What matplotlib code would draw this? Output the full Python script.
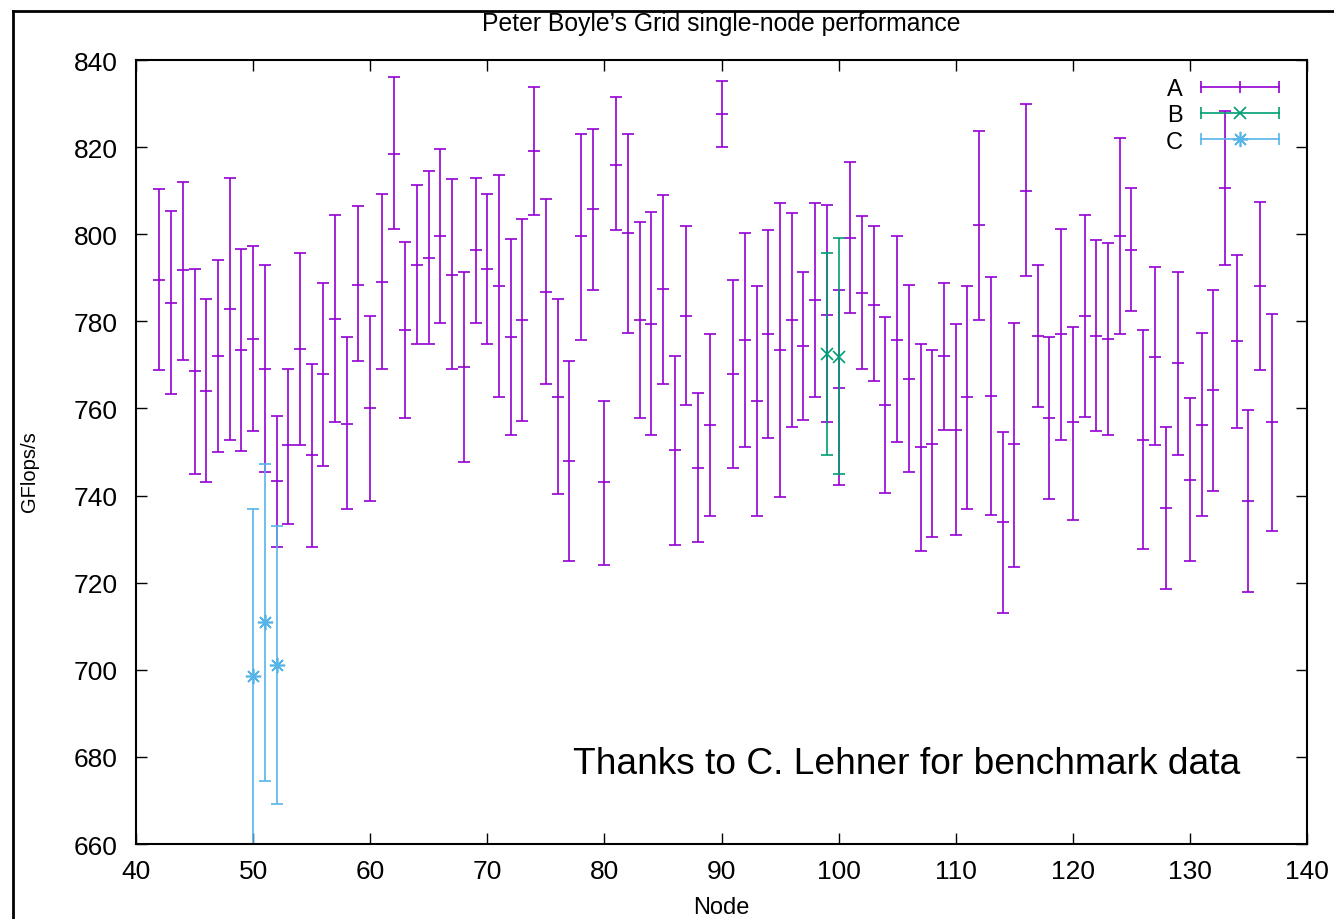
import numpy as np
import matplotlib
matplotlib.use('Agg')
import matplotlib.pyplot as plt
from matplotlib.lines import Line2D
from matplotlib.legend_handler import HandlerLine2D

plt.rcParams['font.family'] = ['Liberation Sans', 'DejaVu Sans']

# series A : nodes 42..137, (low, mean, high)
nodes_a = list(range(42, 138))
high_a = [810.4, 805.4, 812.0, 792.0, 785.2, 794.0, 813.0, 796.6, 797.3, 793.0,
          758.3, 769.1, 795.7, 770.1, 788.8, 804.5, 776.5, 806.5, 781.3, 809.3,
          836.2, 798.2, 811.4, 814.6, 819.5, 812.6, 791.4, 812.9, 809.3, 813.6,
          798.9, 803.5, 833.9, 808.1, 785.2, 770.8, 823.1, 824.1, 761.7, 831.4,
          823.1, 802.8, 805.1, 809.0, 772.1, 801.9, 763.6, 777.0, 835.2, 789.4,
          800.2, 788.2, 800.9, 807.1, 804.8, 791.4, 807.1, 806.8, 787.1, 816.5,
          804.2, 801.9, 780.9, 799.6, 788.4, 774.7, 773.4, 788.7, 779.3, 788.2,
          823.8, 790.1, 754.5, 779.6, 830.0, 793.0, 776.4, 801.2, 778.7, 804.5,
          798.6, 797.9, 822.2, 810.7, 778.0, 792.4, 755.8, 791.4, 762.3, 777.3,
          787.1, 828.3, 795.3, 759.7, 807.4, 781.6]
mean_a = [789.5, 784.2, 791.8, 768.5, 763.9, 772.1, 782.9, 773.4, 776.0, 769.1,
          743.3, 751.5, 773.7, 749.2, 767.8, 780.6, 756.4, 788.4, 760.0, 789.1,
          818.5, 778.0, 793.0, 794.6, 799.6, 790.7, 769.5, 796.3, 792.0, 788.2,
          776.4, 780.3, 819.2, 786.8, 762.7, 747.9, 799.6, 805.8, 743.1, 816.0,
          800.2, 780.3, 779.3, 787.5, 750.5, 781.3, 746.3, 756.1, 827.7, 767.8,
          775.7, 761.7, 777.0, 773.4, 780.3, 774.4, 784.9, 781.5, 764.6, 799.2,
          786.4, 783.8, 760.9, 775.7, 766.8, 751.2, 751.8, 772.1, 755.1, 762.6,
          802.2, 762.9, 733.9, 751.8, 810.0, 776.7, 757.7, 777.0, 756.8, 781.3,
          776.7, 776.0, 799.6, 796.3, 752.8, 771.8, 737.2, 770.4, 743.6, 756.1,
          764.2, 810.7, 775.4, 738.8, 788.2, 756.8]
low_a = [768.8, 763.3, 771.1, 745.0, 743.0, 749.9, 752.8, 750.2, 754.8, 745.3,
         728.3, 733.5, 751.5, 728.3, 746.9, 756.8, 736.8, 770.8, 738.8, 769.1,
         801.2, 757.7, 774.7, 774.7, 779.6, 769.1, 747.6, 779.6, 774.7, 762.7,
         753.8, 757.1, 804.5, 765.5, 740.4, 725.0, 775.7, 787.1, 724.0, 800.9,
         777.3, 757.8, 753.8, 765.5, 728.6, 760.7, 729.3, 735.2, 820.1, 746.3,
         751.2, 735.2, 753.2, 739.7, 755.8, 757.4, 762.7, 756.8, 742.4, 781.9,
         769.1, 766.2, 740.7, 752.2, 745.3, 727.3, 730.6, 755.1, 730.9, 736.8,
         780.3, 735.5, 713.0, 723.7, 790.5, 760.4, 739.1, 752.8, 734.5, 758.1,
         754.8, 753.8, 777.0, 782.3, 727.7, 751.5, 718.5, 749.2, 725.0, 735.2,
         741.0, 793.0, 755.5, 717.8, 768.8, 731.9]

# series B
nodes_b = [99, 100]
mean_b = [772.4, 771.9]
low_b = [749.3, 745.0]
high_b = [795.7, 799.2]

# series C
nodes_c = [50, 51, 52]
mean_c = [698.6, 710.9, 701.2]
low_c = [659.0, 674.4, 669.1]
high_c = [736.8, 747.3, 732.9]

col_a = '#9400d3'
col_b = '#009e73'
col_c = '#56b4e9'

fig = plt.figure(figsize=(13.34, 9.2), dpi=100)
ax = fig.add_axes([0.10195, 0.08152, 0.87781, 0.85217])


def draw(nodes, mean, low, high, color, marker, ms):
    mean = np.array(mean)
    yerr = [mean - np.array(low), np.array(high) - mean]
    ax.errorbar(nodes, mean, yerr=yerr, fmt='none', ecolor=color,
                elinewidth=1.2, capsize=4, capthick=1.2)
    ax.plot(nodes, mean, linestyle='none', marker=marker, ms=ms,
            mec=color, mew=1.2, color=color)


draw(nodes_a, mean_a, low_a, high_a, col_a, '_', 8)
draw(nodes_b, mean_b, low_b, high_b, col_b, 'x', 9)
draw(nodes_c, mean_c, low_c, high_c, col_c, (8, 2, 0), 11)

ax.set_xlim(40, 140)
ax.set_ylim(660, 840)
ax.set_xticks(np.arange(40, 141, 10))
ax.set_yticks(np.arange(660, 841, 20))
ax.tick_params(direction='in', length=8, width=1, top=True, right=True,
               labelsize=19)
ax.tick_params(axis='y', pad=13)
ax.tick_params(axis='x', pad=11)
for s in ax.spines.values():
    s.set_linewidth(1.5)

ax.set_xlabel('Node', fontsize=17)
ax.xaxis.set_label_coords(0.5, -0.066)
ax.set_ylabel('GFlops/s', fontsize=14.5)
ax.yaxis.set_label_coords(-0.0828, 0.476)

fig.text(0.5405, 1 - 24 / 920, 'Peter Boyle\u2019s Grid single-node performance',
         ha='center', va='center', fontsize=17.8)

ax.text(77.3, 678.4, 'Thanks to C. Lehner for benchmark data',
        ha='left', va='center', fontsize=26.7)

# gnuplot style key: label then |--marker--|
handles = []
hmap = {}
for color, marker, ms in [(col_a, '|', 8), (col_b, 'x', 9), (col_c, (8, 2, 0), 11)]:
    caps = Line2D([], [], color=color, lw=1.2, marker='|', ms=8, mew=1.2)
    mid = Line2D([], [], color=color, lw=0, marker=marker, ms=ms, mew=1.2)
    hmap[caps] = HandlerLine2D(numpoints=2)
    hmap[mid] = HandlerLine2D(numpoints=1)
    handles.append((caps, mid))
ax.legend(handles, ['A', 'B', 'C'], handler_map=hmap, loc='upper right',
          bbox_to_anchor=(1.0, 1.004), frameon=False, markerfirst=False,
          fontsize=17, handlelength=3.9, handletextpad=0.45, labelspacing=0.18)

# slide frame lines
fig.add_artist(Line2D([13 / 1334, 13 / 1334], [0, 1 - 12 / 920], color='black', lw=2))
fig.add_artist(Line2D([13 / 1334, 1], [1 - 12 / 920, 1 - 12 / 920], color='black', lw=2))

fig.savefig('out.png', dpi=100)
